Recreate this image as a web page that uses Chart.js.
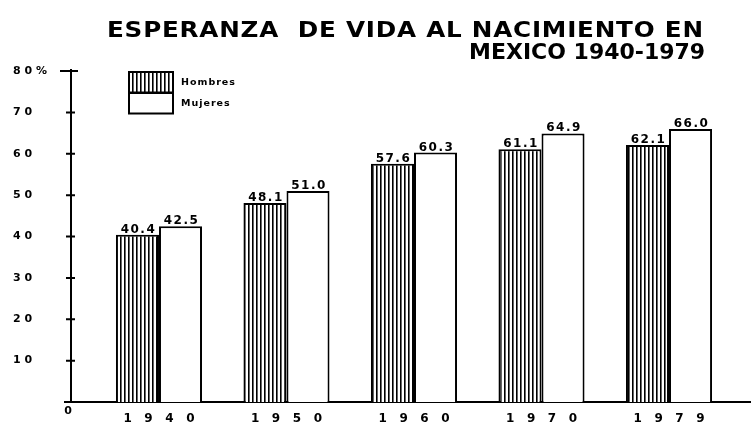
<!DOCTYPE html>
<html>
<head>
<meta charset="utf-8">
<script src="https://cdn.jsdelivr.net/npm/chart.js@4.4.0/dist/chart.umd.min.js"></script>
<style>
  html, body { margin: 0; padding: 0; background: #fff; }
  #wrap { width: 751px; height: 428px; }
</style>
</head>
<body>
<div id="wrap"><canvas id="lifeChart" width="751" height="428"></canvas></div>
<script>
const years = ['1940', '1950', '1960', '1970', '1979'];
const hombres = [40.4, 48.1, 57.6, 61.1, 62.1];
const mujeres = [42.5, 51.0, 60.3, 64.9, 66.0];
const yTicks = [0, 10, 20, 30, 40, 50, 60, 70, 80];
const seriesNames = ['Hombres', 'Mujeres'];
const titleLines = ['ESPERANZA  DE VIDA AL NACIMIENTO EN', 'MEXICO 1940-1979'];

const FONT = "'DejaVu Sans', sans-serif";
const ctx = document.getElementById('lifeChart').getContext('2d');

// vertical stripes for the Hombres bars
function makeStripes() {
    const c = document.createElement('canvas');
    c.width = 4;
    c.height = 4;
    const g = c.getContext('2d');
    g.fillStyle = '#fff';
    g.fillRect(0, 0, 4, 4);
    g.fillStyle = '#000';
    g.fillRect(0, 0, 1.6, 4);
    return ctx.createPattern(c, 'repeat');
}
const stripes = makeStripes();

const spaced = (s, gap) => s.split('').join(gap);

// two line title, lettering is wider than the font so stretch it a bit
const titlePlugin = {
    id: 'scanTitle',
    afterDraw(chart) {
        const c = chart.ctx;
        // [left, right, baseline, horizontal stretch]
        const boxes = [[107, 703, 37, 1.12], [469, 703, 59, 1.0]];
        titleLines.forEach((t, i) => {
            const [x0, x1, y, sx] = boxes[i];
            c.save();
            c.fillStyle = '#000';
            c.font = `bold 22px ${FONT}`;
            c.textAlign = 'left';
            c.textBaseline = 'alphabetic';
            c.letterSpacing = '0px';
            const w = c.measureText(t).width * sx;
            const sp = Math.max(0, (x1 - x0 - w) / (t.length - 1));
            c.translate(x0, y);
            c.scale(sx, 1);
            c.letterSpacing = (sp / sx) + 'px';
            c.fillText(t, 0, 0);
            c.restore();
        });
    }
};

// tick crosses on the y axis and the stray "0" at the origin
const axisMarks = {
    id: 'axisMarks',
    afterDraw(chart) {
        const { chartArea: a, scales: { y } } = chart;
        const c = chart.ctx;
        c.save();
        c.strokeStyle = '#000';
        c.lineWidth = 2;
        c.beginPath();
        yTicks.forEach(v => {
            if (v === 0) return;
            const py = y.getPixelForValue(v);
            c.moveTo(a.left - (v === 80 ? 11 : 5), py);
            c.lineTo(a.left + (v === 80 ? 7 : 4), py);
        });
        c.moveTo(a.left - 7, a.bottom);
        c.lineTo(a.left, a.bottom);
        c.moveTo(a.left, a.top);
        c.lineTo(a.left, a.top - 2);
        c.stroke();
        c.fillStyle = '#000';
        c.font = `bold 11px ${FONT}`;
        c.textAlign = 'center';
        c.textBaseline = 'middle';
        c.fillText('0', a.left - 3, a.bottom + 9);
        c.restore();
    }
};

// stacked legend boxes
const legendBox = {
    id: 'legendBox',
    afterDraw(chart) {
        const c = chart.ctx;
        const x = 129, w = 44, h = 20.5, tops = [72, 93];
        c.save();
        chart.data.datasets.forEach((ds, i) => {
            c.fillStyle = ds.backgroundColor;
            c.fillRect(x, tops[i], w, h);
            c.lineWidth = 2;
            c.strokeStyle = '#000';
            c.strokeRect(x, tops[i], w, h);
            c.fillStyle = '#000';
            c.font = `bold 9.5px ${FONT}`;
            c.letterSpacing = '1px';
            c.textAlign = 'left';
            c.textBaseline = 'middle';
            c.fillText(ds.label, 181, tops[i] + 11);
        });
        c.restore();
    }
};

// value printed over every bar
const valueLabels = {
    id: 'valueLabels',
    afterDatasetsDraw(chart) {
        const c = chart.ctx;
        c.save();
        c.font = `bold 12px ${FONT}`;
        c.letterSpacing = '1.5px';
        c.fillStyle = '#000';
        c.textAlign = 'center';
        c.textBaseline = 'alphabetic';
        chart.data.datasets.forEach((ds, i) => {
            chart.getDatasetMeta(i).data.forEach((bar, j) => {
                c.fillText(ds.data[j].y.toFixed(1), bar.x + 1, bar.y - 2);
            });
        });
        c.restore();
    }
};

const barStyle = {
    borderColor: '#000',
    borderWidth: 2,
    categoryPercentage: 0.675,
    barPercentage: 1.0
};

new Chart(ctx, {
    type: 'bar',
    data: {
        datasets: [
            Object.assign({
                label: seriesNames[0],
                data: hombres.map((v, i) => ({ x: i, y: v })),
                backgroundColor: stripes
            }, barStyle),
            Object.assign({
                label: seriesNames[1],
                data: mujeres.map((v, i) => ({ x: i, y: v })),
                backgroundColor: '#fff'
            }, barStyle)
        ]
    },
    options: {
        responsive: false,
        animation: false,
        layout: { padding: { top: 71, left: 13, right: 0, bottom: 0 } },
        plugins: {
            legend: { display: false },
            title: { display: false },
            tooltip: { enabled: false }
        },
        scales: {
            x: {
                type: 'linear',
                min: -0.69,
                max: 4.643,
                offset: false,
                grid: { display: false, drawTicks: false },
                border: { color: '#000', width: 2 },
                afterBuildTicks: s => { s.ticks = years.map((_, i) => ({ value: i })); },
                afterFit: s => { s.height = 26; },
                ticks: {
                    autoSkip: false,
                    maxRotation: 0,
                    padding: 10,
                    color: '#000',
                    font: { family: FONT, size: 12, weight: 'bold' },
                    callback: v => years[v] ? spaced(years[v], '   ') : ''
                }
            },
            y: {
                min: 0,
                max: 80,
                grid: { display: false, drawTicks: false },
                border: { color: '#000', width: 2 },
                afterBuildTicks: s => { s.ticks = yTicks.map(v => ({ value: v })); },
                afterFit: s => { s.width = 58; },
                ticks: {
                    crossAlign: 'far',
                    padding: 0,
                    color: '#000',
                    font: { family: FONT, size: 11, weight: 'bold' },
                    callback: v => v === 0 ? '' : (v === 80 ? '8 0 %' : spaced(String(v), ' '))
                }
            }
        }
    },
    plugins: [valueLabels, axisMarks, legendBox, titlePlugin]
});
</script>
</body>
</html>
